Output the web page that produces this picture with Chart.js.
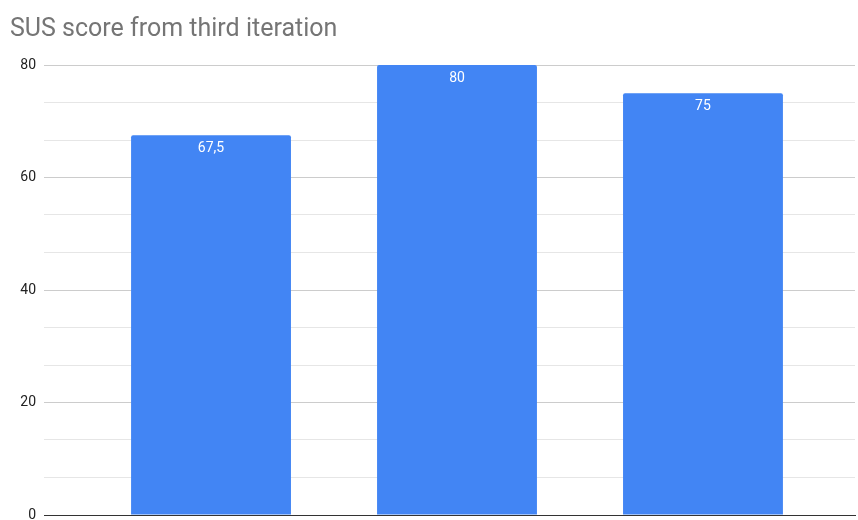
<!DOCTYPE html>
<html>
<head>
<meta charset="utf-8">
<script src="https://cdn.jsdelivr.net/npm/chart.js@4"></script>
<style>
  html, body { margin:0; padding:0; background:#fff; }
  #wrap { width:858px; height:520px; }
</style>
</head>
<body>
<div id="wrap"><canvas id="chart"></canvas></div>
<script>
const categories = ['1', '2', '3'];
const susScores = [67.5, 80, 75];
const yTicks = [0, 20, 40, 60, 80];

const fmt = v => String(v).replace('.', ',');

// white value labels inside the top of each bar
const barLabels = {
  id: 'barLabels',
  afterDatasetsDraw(chart){
    const ctx = chart.ctx;
    const meta = chart.getDatasetMeta(0);
    ctx.save();
    ctx.fillStyle = '#ffffff';
    ctx.font = '14px Roboto, Arial, sans-serif';
    ctx.textAlign = 'center';
    ctx.textBaseline = 'middle';
    meta.data.forEach((bar, i) => {
      ctx.fillText(fmt(susScores[i]), bar.x, bar.y + 13);
    });
    ctx.restore();
  }
};

const isMajor = v => yTicks.some(t => Math.abs(t - v) < 1e-6);

new Chart(document.getElementById('chart'), {
  type: 'bar',
  data: {
    labels: categories,
    datasets: [{
      label: 'SUS score',
      data: susScores.map((v, i) => ({ x: i, y: v })),
      backgroundColor: '#4285f4',
      borderRadius: 2,
      borderSkipped: 'bottom',
      categoryPercentage: 1,
      barPercentage: 0.65
    }]
  },
  options: {
    responsive: true,
    maintainAspectRatio: false,
    animation: false,
    layout: { padding: { left: 10, right: 3, top: 0, bottom: 5 } },
    plugins: {
      legend: { display: false },
      tooltip: { enabled: false },
      title: {
        display: true,
        text: 'SUS score from third iteration',
        align: 'start',
        color: '#757575',
        font: { family: 'Roboto, Arial, sans-serif', size: 25, weight: 'normal' },
        padding: { top: 15, bottom: 20 }
      }
    },
    scales: {
      x: {
        type: 'linear',
        offset: false,
        min: -0.679,
        max: 2.618,
        ticks: { display: false },
        grid: { display: false },
        border: { display: true, color: '#333333', width: 1 },
        afterBuildTicks: s => { s.ticks = categories.map((c, i) => ({ value: i })); },
        afterFit: s => { s.height = 0; s.paddingLeft = 0; s.paddingRight = 0; }
      },
      y: {
        min: 0,
        max: 80,
        ticks: {
          stepSize: 20 / 3,
          padding: 8,
          color: '#222222',
          font: { family: 'Roboto, Arial, sans-serif', size: 14 },
          callback: v => isMajor(v) ? String(Math.round(v)) : ''
        },
        grid: {
          drawTicks: false,
          color: c => c.tick.value === 0 ? '#333333' : (isMajor(c.tick.value) ? '#cccccc' : '#e6e6e6')
        },
        border: { display: false },
        afterFit: s => { s.width = 34; s.paddingTop = 0; s.paddingBottom = 0; }
      }
    }
  },
  plugins: [barLabels]
});
</script>
</body>
</html>
